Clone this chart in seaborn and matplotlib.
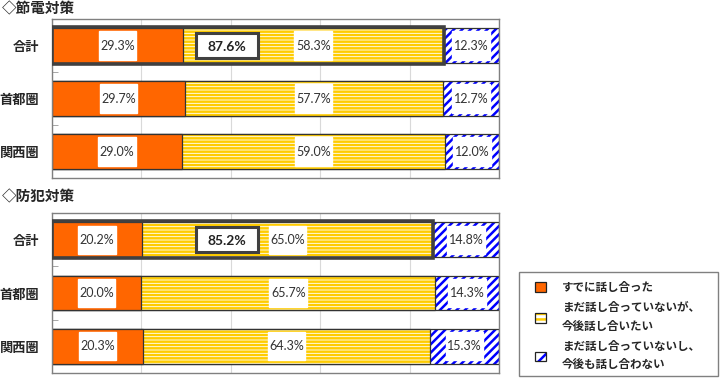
import numpy as np
import pandas as pd
import seaborn as sns
import matplotlib.pyplot as plt
from matplotlib.patches import Patch, Rectangle

# データ
regions = ['合計', '首都圏', '関西圏']
setsuden_done = [29.3, 29.7, 29.0]
setsuden_will = [58.3, 57.7, 59.0]
setsuden_wont = [12.3, 12.7, 12.0]
bohan_done = [20.2, 20.0, 20.3]
bohan_will = [65.0, 65.7, 64.3]
bohan_wont = [14.8, 14.3, 15.3]
legend_labels = ['すでに話し合った',
                 'まだ話し合っていないが、\n今後話し合いたい',
                 'まだ話し合っていないし、\n今後も話し合わない']

ORANGE = '#FF6600'
YELLOW = '#FFCC00'
BLUE = '#0000FF'
DARK = '#404040'

sns.set_style('white')
plt.rcParams['font.family'] = ['Noto Sans CJK JP', 'DejaVu Sans']
plt.rcParams['hatch.linewidth'] = 1.8

fig = plt.figure(figsize=(7.25, 3.79), dpi=100)
ax1 = fig.add_axes([0.0717, 0.5303, 0.6166, 0.4195])
ax2 = fig.add_axes([0.0717, 0.0158, 0.6166, 0.422])

BAR_H = 0.65
NUM_FONT = ['Lato', 'DejaVu Sans']


def draw_panel(ax, done, will, wont, title, title_y):
    df = pd.DataFrame({'region': regions, 'done': done, 'will': will, 'wont': wont})
    df['c1'] = df['done']
    df['c2'] = df['done'] + df['will']
    df['c3'] = df['c2'] + df['wont']

    # 累積値を大きい順に重ねて積み上げ棒グラフにする
    layers = [('c3', BLUE, '////'), ('c2', YELLOW, '-----'), ('c1', ORANGE, None)]
    for col, col_color, hatch in layers:
        n0 = len(ax.patches)
        if hatch:
            sns.barplot(data=df, x=col, y='region', orient='y', color='white',
                        saturation=1, width=BAR_H, edgecolor=col_color,
                        linewidth=0, hatch=hatch, errorbar=None, ax=ax)
        else:
            sns.barplot(data=df, x=col, y='region', orient='y', color=col_color,
                        saturation=1, width=BAR_H, edgecolor='none',
                        linewidth=0, errorbar=None, ax=ax)
        for p in list(ax.patches[n0:]):
            ax.add_patch(Rectangle(p.get_xy(), p.get_width(), p.get_height(),
                                   fill=False, ec='#333333', lw=0.9))

    # 値ラベル（白い背景つき）
    for i, row in df.iterrows():
        for left, val in [(0, row['done']), (row['c1'], row['will']), (row['c2'], row['wont'])]:
            cx = left + val / 2
            ax.barh(i, 8.4, left=cx - 4.2, height=0.53, color='white', zorder=3)
            ax.text(cx, i, f'{val:.1f}%', ha='center', va='center', fontsize=9,
                    color='#333333', family=NUM_FONT, zorder=4)

    # 合計の「すでに＋今後」枠と合算値
    total = df.loc[0, 'c2']
    ax.barh(0, total, height=BAR_H + 0.04, fill=False, edgecolor=DARK, lw=2.6, zorder=4)
    box_x = 39.2
    ax.barh(0, 13.9, left=box_x - 6.95, height=0.47, color='white',
            edgecolor=DARK, lw=2.2, zorder=5)
    ax.text(box_x, 0.02, f'{total:.1f}%', ha='center', va='center', fontsize=10,
            fontweight='bold', color='#222222', family=NUM_FONT, zorder=6)

    ax.set_xlim(0, 100)
    ax.set_ylim(2.5, -0.5)
    ax.set_xticks([0, 20, 40, 60, 80, 100])
    ax.set_xticklabels([])
    ax.xaxis.grid(True, color='#d9d9d9', lw=0.8)
    ax.set_axisbelow(True)
    ax.set_xlabel('')
    ax.set_ylabel('')
    ax.set_yticks(range(len(regions)))
    ax.set_yticklabels(regions, fontsize=9.5, fontweight='bold')
    ax.set_yticks([0.5, 1.5], minor=True)
    ax.tick_params(axis='y', which='major', length=0, pad=9)
    ax.tick_params(axis='y', which='minor', direction='in', length=4,
                   color='#999999', left=True)
    ax.tick_params(axis='x', length=0)
    for s in ax.spines.values():
        s.set_color('#808080')
        s.set_linewidth(1)
    fig.text(0.003, title_y, title, fontsize=10.5, fontweight='bold', va='center')


draw_panel(ax1, setsuden_done, setsuden_will, setsuden_wont, '◇節電対策', 1 - 8 / 379)
draw_panel(ax2, bohan_done, bohan_will, bohan_wont, '◇防犯対策', 1 - 196 / 379)

# 凡例（枠は別に描く）
h1 = Patch(fc=ORANGE, ec='#222222', lw=0.9)
h2 = (Patch(fc='white', ec=YELLOW, lw=0, hatch='---'),
      Patch(fill=False, ec='#222222', lw=0.9))
h3 = (Patch(fc='white', ec=BLUE, lw=0, hatch='//'),
      Patch(fill=False, ec='#222222', lw=0.9))
leg = fig.legend([h1, h2, h3], legend_labels, loc='upper left',
                 bbox_to_anchor=(535 / 725, 1 - 281 / 379),
                 prop={'weight': 'bold', 'size': 8.3}, frameon=False,
                 handlelength=0.95, handleheight=0.95, handletextpad=1.4,
                 labelspacing=0.65, borderpad=0, borderaxespad=0)
for t in leg.get_texts():
    t.set_linespacing(1.5)
fig.add_artist(Rectangle((519 / 725, 3 / 379), 199 / 725, 104 / 379,
                         transform=fig.transFigure, fill=False,
                         ec='#808080', lw=1))

plt.savefig('out.png', dpi=100)
